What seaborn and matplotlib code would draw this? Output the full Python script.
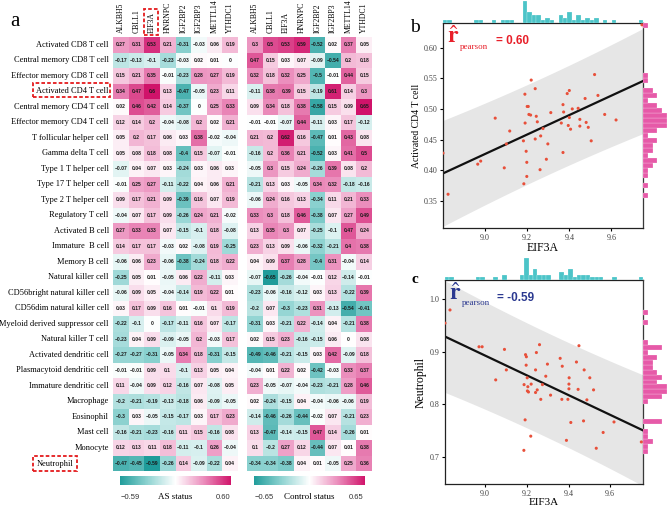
import numpy as np
import pandas as pd
import seaborn as sns
import matplotlib
matplotlib.use("Agg")
import matplotlib.pyplot as plt
import matplotlib.patches as patches
from matplotlib.colors import LinearSegmentedColormap

W, H = 668, 511

cells = ["Activated CD8 T cell", "Central memory CD8 T cell", "Effector memory CD8 T cell",
         "Activated CD4 T cell", "Central memory CD4 T cell", "Effector memory CD4 T cell",
         "T follicular helper cell", "Gamma delta T cell", "Type 1 T helper cell",
         "Type 17 T helper cell", "Type 2 T helper cell", "Regulatory T cell",
         "Activated B cell", "Immature  B cell", "Memory B cell", "Natural killer cell",
         "CD56bright natural killer cell", "CD56dim natural killer cell",
         "Myeloid derived suppressor cell", "Natural killer T cell",
         "Activated dendritic cell", "Plasmacytoid dendritic cell", "Immature dendritic cell",
         "Macrophage", "Eosinophil", "Mast cell", "Monocyte", "Neutrophil"]
genes = ["ALKBH5", "CBLL1", "EIF3A", "HNRNPC", "IGF2BP2", "IGF2BP3", "METTL14", "YTHDC1"]

# correlation values, AS samples
as_corr = [
    [0.27, 0.31, 0.53, 0.21, -0.31, -0.03, 0.06, 0.19],
    [-0.17, -0.13, -0.1, -0.23, -0.03, 0.02, 0.01, 0],
    [0.15, 0.21, 0.35, -0.01, -0.23, 0.28, 0.27, 0.19],
    [0.34, 0.47, 0.6, 0.13, -0.47, -0.05, 0.23, 0.11],
    [0.02, 0.46, 0.42, 0.14, -0.37, 0, 0.25, 0.33],
    [0.12, 0.14, 0.2, -0.04, -0.08, 0.2, 0.02, 0.21],
    [0.05, 0.2, 0.17, 0.06, 0.03, 0.38, -0.02, -0.04],
    [0.05, 0.08, 0.18, 0.08, -0.4, 0.15, -0.07, -0.01],
    [-0.07, 0.04, 0.07, 0.03, -0.24, 0.03, 0.06, 0.03],
    [-0.01, 0.25, 0.27, -0.11, -0.22, 0.04, 0.06, 0.21],
    [0.09, 0.17, 0.21, 0.09, -0.39, 0.16, 0.07, 0.19],
    [-0.04, 0.07, 0.17, 0.09, -0.26, 0.24, 0.21, -0.02],
    [0.27, 0.33, 0.33, 0.07, -0.15, -0.1, 0.18, -0.08],
    [0.14, 0.17, 0.17, -0.03, 0.02, -0.08, 0.19, -0.25],
    [-0.06, 0.06, 0.23, -0.06, -0.38, -0.24, 0.18, 0.22],
    [-0.25, 0.05, 0.01, -0.05, 0.06, 0.22, -0.11, 0.03],
    [-0.06, 0.09, 0.05, -0.04, -0.14, 0.19, 0.22, 0.01],
    [0.03, 0.17, 0.09, 0.16, 0.01, -0.01, 0.1, 0.19],
    [-0.22, -0.1, 0, -0.17, -0.11, 0.16, 0.07, -0.17],
    [-0.23, 0.04, 0.09, -0.09, -0.05, 0.2, -0.03, 0.17],
    [-0.27, -0.27, -0.31, -0.05, 0.34, 0.18, -0.31, -0.15],
    [-0.01, -0.01, 0.09, 0.1, -0.1, 0.13, 0.05, 0.04],
    [0.11, -0.04, 0.09, 0.12, -0.16, 0.07, -0.08, 0.05],
    [-0.2, -0.21, -0.19, -0.13, -0.18, 0.06, -0.09, -0.05],
    [-0.3, 0.03, -0.05, -0.15, -0.17, 0.03, 0.17, 0.23],
    [-0.16, -0.21, -0.23, -0.16, 0.11, 0.15, -0.16, 0.08],
    [0.12, 0.13, 0.11, 0.18, -0.11, -0.1, 0.26, -0.04],
    [-0.47, -0.45, -0.59, -0.26, 0.14, -0.09, -0.22, 0.04],
]

# correlation values, control samples
ctrl_corr = [
    [0.3, 0.5, 0.53, 0.59, -0.52, 0.02, 0.37, 0.05],
    [0.47, 0.15, 0.03, 0.07, -0.09, -0.54, 0.2, 0.18],
    [0.32, 0.18, 0.32, 0.25, -0.5, -0.01, 0.44, 0.15],
    [-0.11, 0.38, 0.39, 0.15, -0.19, 0.61, 0.14, 0.3],
    [0.09, 0.34, 0.18, 0.38, -0.58, 0.15, 0.09, 0.65],
    [-0.01, -0.01, -0.07, 0.44, -0.11, 0.03, 0.17, -0.12],
    [0.21, 0.2, 0.62, 0.16, -0.47, 0.01, 0.43, 0.08],
    [-0.16, 0.2, 0.36, 0.21, -0.52, 0.03, 0.41, 0.5],
    [-0.05, 0.3, 0.15, 0.24, -0.26, 0.39, 0.08, 0.2],
    [-0.21, 0.13, 0.03, -0.05, 0.34, 0.32, -0.18, -0.16],
    [-0.06, 0.24, 0.16, 0.13, -0.34, 0.11, 0.21, 0.33],
    [0.33, 0.3, 0.18, 0.46, -0.38, 0.07, 0.27, 0.49],
    [0.13, 0.35, 0.3, 0.07, -0.25, -0.1, 0.47, 0.24],
    [0.23, 0.13, 0.09, -0.06, -0.32, -0.21, 0.4, 0.38],
    [0.04, 0.09, 0.37, 0.28, -0.4, 0.31, -0.04, 0.14],
    [-0.07, -0.65, -0.26, -0.04, -0.01, 0.12, -0.14, -0.01],
    [-0.23, -0.06, -0.16, -0.12, 0.03, 0.13, -0.22, 0.39],
    [-0.2, 0.07, -0.3, -0.23, 0.31, -0.13, -0.54, -0.41],
    [-0.31, 0.03, -0.21, 0.22, -0.14, 0.04, -0.21, 0.38],
    [0.02, 0.15, 0.23, -0.16, -0.15, 0.06, 0, 0.08],
    [-0.49, -0.46, -0.21, -0.15, 0.03, 0.42, -0.09, 0.18],
    [-0.04, 0.01, 0.22, 0.02, -0.42, -0.03, 0.33, 0.37],
    [0.23, -0.05, -0.07, -0.04, -0.23, -0.21, 0.28, 0.46],
    [0.02, -0.24, -0.15, 0.04, -0.04, -0.06, -0.06, 0.19],
    [-0.14, -0.46, -0.26, -0.44, -0.02, 0.07, -0.21, 0.23],
    [0.13, -0.47, -0.14, -0.15, 0.47, 0.14, -0.26, 0.01],
    [0.1, -0.2, 0.27, 0.12, -0.44, 0.07, 0.01, 0.38],
    [-0.34, -0.34, -0.38, 0.04, 0.01, -0.05, 0.25, 0.36],
]

# panel b: EIF3A vs activated CD4 T cell score
eif3a_b = [8.800, 8.824, 8.965, 8.979, 9.048, 9.091, 9.101, 9.117, 9.182, 9.184,
           9.189, 9.190, 9.195, 9.198, 9.198, 9.200, 9.205, 9.208, 9.216, 9.219,
           9.238, 9.238, 9.243, 9.248, 9.261, 9.264, 9.275, 9.291, 9.298, 9.312,
           9.362, 9.370, 9.370, 9.373, 9.390, 9.395, 9.400, 9.400, 9.406, 9.414,
           9.442, 9.450, 9.450, 9.475, 9.480, 9.490, 9.504, 9.520, 9.536, 9.568,
           9.622, 9.745]
cd4_b = [0.428, 0.361, 0.410, 0.415, 0.485, 0.404, 0.443, 0.464, 0.448, 0.378,
         0.524, 0.477, 0.431, 0.413, 0.390, 0.504, 0.504, 0.491, 0.490, 0.547,
         0.533, 0.451, 0.488, 0.479, 0.401, 0.456, 0.468, 0.418, 0.443, 0.494,
         0.477, 0.507, 0.429, 0.495, 0.525, 0.473, 0.530, 0.486, 0.467, 0.500,
         0.501, 0.483, 0.472, 0.517, 0.478, 0.470, 0.448, 0.556, 0.522, 0.491,
         0.482, 0.637]

# panel c: EIF3A vs neutrophil score
eif3a_c = [8.808, 8.832, 8.971, 8.986, 9.051, 9.093, 9.102, 9.186, 9.187, 9.192,
           9.194, 9.197, 9.198, 9.202, 9.203, 9.205, 9.208, 9.219, 9.221, 9.242,
           9.242, 9.246, 9.250, 9.261, 9.267, 9.275, 9.291, 9.299, 9.314, 9.360,
           9.368, 9.370, 9.390, 9.397, 9.402, 9.402, 9.403, 9.411, 9.438, 9.446,
           9.450, 9.472, 9.475, 9.488, 9.502, 9.520, 9.533, 9.566, 9.618, 9.749]
neut_c = [0.954, 0.979, 0.909, 0.909, 0.846, 0.904, 0.865, 0.712, 0.837, 0.770,
          0.894, 0.874, 0.890, 0.850, 0.825, 0.833, 0.823, 0.739, 0.838, 0.865,
          0.822, 0.898, 0.827, 0.913, 0.809, 0.837, 0.853, 0.876, 0.817, 0.887,
          0.809, 0.872, 0.731, 0.809, 0.838, 0.829, 0.850, 0.765, 0.880, 0.828,
          0.911, 0.768, 0.865, 0.808, 0.850, 0.827, 0.716, 0.746, 0.766, 0.728]

SERIF = "Liberation Serif"
SANS = "Liberation Sans"
plt.rcParams["font.family"] = [SERIF, "DejaVu Serif"]
plt.rcParams["mathtext.fontset"] = "stix"

cmap = LinearSegmentedColormap.from_list("tp", ["#1f9c9a", "#8fd3d1", "#ffffff", "#eb8fbd", "#d0136a"])


def box(x0, y0, x1, y1):
    return [x0 / W, 1 - y1 / H, (x1 - x0) / W, (y1 - y0) / H]


def fmt(v):
    return f"{v:g}".replace("-", "\u2212")


fig = plt.figure(figsize=(W / 100, H / 100), dpi=100)

# ---- heatmaps ----
hm_specs = [(as_corr, box(113, 37, 238, 471), -0.59, 0.60, "AS status", True),
            (ctrl_corr, box(247, 37, 372, 471), -0.65, 0.65, "Control status", False)]
for vals, pos, vmin, vmax, title, show_rows in hm_specs:
    df = pd.DataFrame(vals, index=cells, columns=genes)
    labels = np.vectorize(fmt)(df.values)
    ax = fig.add_axes(pos)
    sns.heatmap(df, ax=ax, cmap=cmap, vmin=vmin, vmax=vmax, annot=labels, fmt="",
                cbar=False, annot_kws=dict(fontsize=3.6, fontweight="bold",
                                           family=SANS, color="#1a1a1a"))
    ax.xaxis.tick_top()
    ax.set_xticks(np.arange(len(genes)) + 0.5)
    ax.set_xticklabels(genes, rotation=90, fontsize=5.6, family=SERIF, va="bottom")
    ax.tick_params(length=0, pad=3)
    ax.set_xlabel("")
    ax.set_ylabel("")
    if show_rows:
        ax.set_yticks(np.arange(len(cells)) + 0.5)
        # the last row label is drawn separately (shifted left, boxed)
        ax.set_yticklabels(cells[:-1] + [""], rotation=0, fontsize=6.0, family=SERIF)
        fig.text(37 / W, 1 - 463.5 / H, cells[-1], fontsize=6.0, family=SERIF,
                 ha="left", va="center")
    else:
        ax.set_yticks([])
    # colorbar
    x0 = pos[0]
    cax = fig.add_axes([x0 + 0.01, 1 - 485 / H, pos[2] - 0.02, 9 / H])
    cb = fig.colorbar(ax.collections[0], cax=cax, orientation="horizontal")
    cb.outline.set_visible(False)
    cax.set_xticks([])
    fig.text(x0 + 0.012, 1 - 497 / H, fmt(vmin) if vmin != -0.59 else "\u22120.59",
             fontsize=5.5, family=SANS, ha="left", va="center", color="#333")
    fig.text(x0 + pos[2] / 2, 1 - 497 / H, title, fontsize=6.5, family=SERIF,
             ha="center", va="center")
    fig.text(x0 + pos[2] - 0.012, 1 - 497 / H, f"{vmax:.2f}", fontsize=5.5, family=SANS,
             ha="right", va="center", color="#333")

# red dashed highlight boxes
for (bx0, by0, bx1, by1) in [(144, 9, 158, 35), (33, 83, 110, 97), (33, 456, 77, 471)]:
    fig.patches.append(patches.Rectangle((bx0 / W, 1 - by1 / H), (bx1 - bx0) / W, (by1 - by0) / H,
                                         transform=fig.transFigure, fill=False,
                                         edgecolor="#e41a1c", linestyle=(0, (2, 1.2)), lw=1.3))


# ---- scatter panels with marginal histograms ----
def joint(x, y, main_box, xlim, ylim, yticks, ylabel, rtxt, rcolor, ylab_size, xlab_size):
    x = np.asarray(x)
    y = np.asarray(y)
    ax = fig.add_axes(box(*main_box))
    axt = fig.add_axes(box(main_box[0], main_box[1] - 23, main_box[2], main_box[1]))
    axr = fig.add_axes(box(main_box[2], main_box[1], W, main_box[3]))

    slope, inter = np.polyfit(x, y, 1)
    xs = np.linspace(xlim[0], xlim[1], 100)
    fit = inter + slope * xs
    n = len(x)
    resid = y - (inter + slope * x)
    s = np.sqrt(np.sum(resid ** 2) / (n - 2))
    se = s * np.sqrt(1 + 1 / n + (xs - x.mean()) ** 2 / np.sum((x - x.mean()) ** 2))
    ax.fill_between(xs, fit - 2.0 * se, fit + 2.0 * se, color="#e6e6e6", lw=0, zorder=0)
    ax.plot(xs, fit, color="#111111", lw=1.6, zorder=2)
    sns.scatterplot(x=x, y=y, ax=ax, color="#e8503a", s=5, edgecolor="none", zorder=3)
    ax.set_xlim(xlim)
    ax.set_ylim(ylim)
    ax.set_xticks([9.0, 9.2, 9.4, 9.6])
    ax.set_xticklabels(["9.0", "9.2", "9.4", "9.6"])
    ax.set_yticks(yticks)
    ax.tick_params(labelsize=5.8, labelcolor="#444", length=2.5, width=0.8,
                   direction="out", pad=1.5)
    for sp in ax.spines.values():
        sp.set_linewidth(0.9)
        sp.set_color("#222")
    ax.set_xlabel("EIF3A", fontsize=xlab_size, labelpad=0.5)
    ax.set_ylabel(ylabel, fontsize=ylab_size, labelpad=2)

    bins_x = np.linspace(xlim[0], xlim[1], 46)
    sns.histplot(x=x, ax=axt, bins=bins_x, color="#4cc4c8", edgecolor="white",
                 linewidth=0.15, alpha=1)
    axt.set_xlim(xlim)
    axt.axis("off")
    bins_y = np.linspace(ylim[0], ylim[1], 42)
    sns.histplot(y=y, ax=axr, bins=bins_y, color="#e65aa8", edgecolor="white",
                 linewidth=0.15, alpha=1)
    axr.set_ylim(ylim)
    axr.axis("off")

    ax.text(0.02, 0.985, r"$\hat{\mathbf{r}}$", transform=ax.transAxes, fontsize=17,
            color=rcolor, ha="left", va="top")
    ax.text(0.085, 0.885, "pearson", transform=ax.transAxes, fontsize=6.5,
            color=rcolor, ha="left", va="center")
    ax.text(0.265, 0.91, rtxt, transform=ax.transAxes, fontsize=8.5, family=SANS,
            fontweight="bold", color=rcolor, ha="left", va="center")
    return ax


joint(eif3a_b, cd4_b, (443, 23, 643, 228), (8.80, 9.75), (0.306, 0.64),
      [0.35, 0.40, 0.45, 0.50, 0.55, 0.60], "Activated CD4 T cell", "= 0.60", "#e8202a", 7, 8.5)
joint(eif3a_c, neut_c, (445, 280, 643, 484), (8.808, 9.757), (0.648, 1.036),
      [0.7, 0.8, 0.9, 1.0], "Neutrophil", "= -0.59", "#2b3990", 8.5, 8)

fig.text(10 / W, 1 - 22 / H, "a", fontsize=15, family=SERIF, ha="left", va="center")
fig.text(410 / W, 1 - 27 / H, "b", fontsize=14, family=SERIF, ha="left", va="center")
fig.text(411 / W, 1 - 279 / H, "c", fontsize=11, family=SERIF, fontweight="bold",
         ha="left", va="center")

fig.savefig("out.png", dpi=100)
